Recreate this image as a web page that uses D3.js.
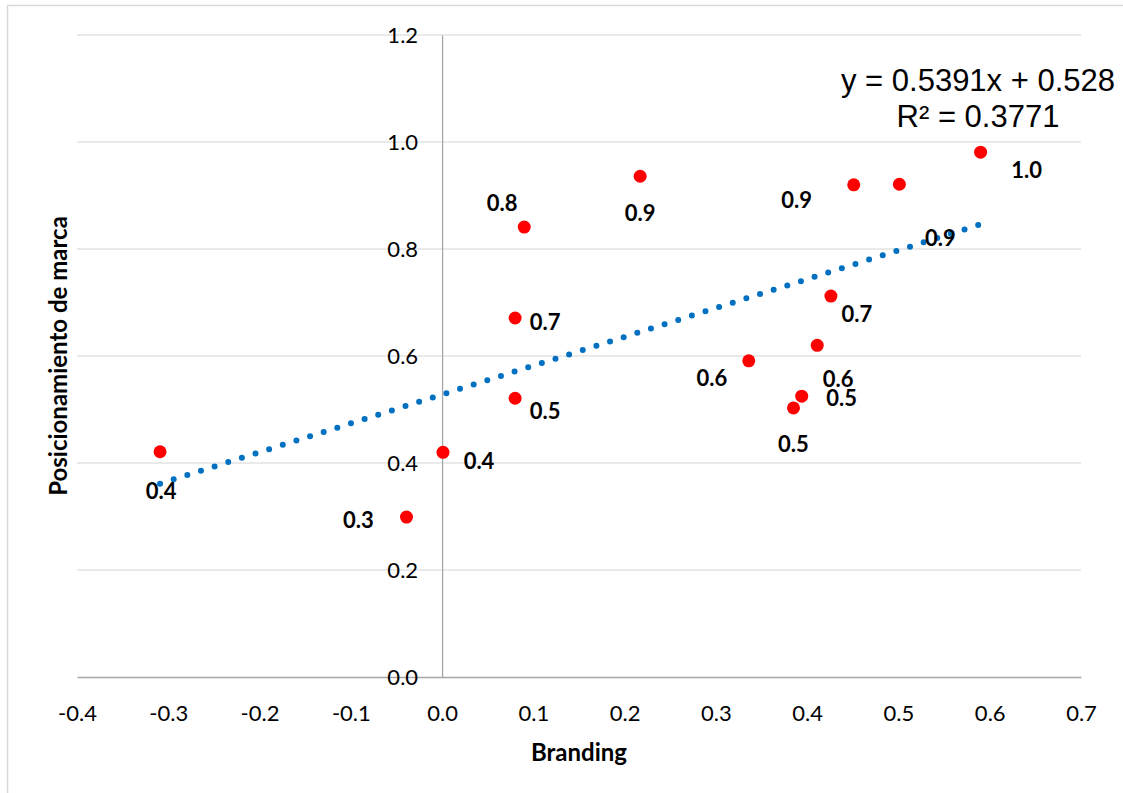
<!DOCTYPE html>
<html>
<head>
<meta charset="utf-8">
<script src="https://cdn.jsdelivr.net/npm/d3@7"></script>
<style>
  body { margin: 0; background: #fff; }
  svg text { font-family: Lato, "Open Sans", sans-serif; }
</style>
</head>
<body>
<div class="scatter"></div>
<script>
// data
const branding = [-0.309, -0.039, 0.001, 0.080, 0.080, 0.090, 0.217, 0.336, 0.385, 0.394, 0.411, 0.426, 0.451, 0.501, 0.590];
const posicionamiento = [0.421, 0.299, 0.420, 0.671, 0.521, 0.841, 0.936, 0.591, 0.503, 0.525, 0.620, 0.712, 0.920, 0.921, 0.981];
// label placement around each point (dx, dy from the point)
const labelOffsets = [[1, 47], [-48, 11], [36, 17], [30, 12], [30, 21], [-22, -16], [0, 45],
  [-37, 25], [0, 44], [40, 10], [21, 42], [26, 26], [-57, 23], [41, 62], [46, 26]];
const xTicks = [-0.4, -0.3, -0.2, -0.1, 0.0, 0.1, 0.2, 0.3, 0.4, 0.5, 0.6, 0.7];
const yTicks = [0.0, 0.2, 0.4, 0.6, 0.8, 1.0, 1.2];
const slope = 0.5391;
const intercept = 0.528;
const rSquared = 0.3771;

const svgWidth = 1123;
const svgHeight = 793;
const margin = { top: 35, right: 42, bottom: 116, left: 77 };
const width = svgWidth - margin.left - margin.right;
const height = svgHeight - margin.top - margin.bottom;

// plain hyphen for negatives, like the original
const fmt = d => d.toFixed(1);

const svg = d3.select(".scatter")
  .append("svg")
  .attr("width", svgWidth)
  .attr("height", svgHeight);

// chart frame
svg.append("rect")
  .attr("x", 7.5).attr("y", 5.5)
  .attr("width", 1300).attr("height", 1000)
  .attr("fill", "none")
  .attr("stroke", "#d9d9d9")
  .attr("stroke-width", 1.5);

const chartGroup = svg.append("g")
  .attr("transform", `translate(${margin.left}, ${margin.top})`);

const xScale = d3.scaleLinear().domain([-0.4, 0.7]).range([0, width]);
const yScale = d3.scaleLinear().domain([0, 1.2]).range([height, 0]);

// horizontal gridlines
chartGroup.append("g")
  .selectAll("line")
  .data(yTicks.filter(d => d !== 0))
  .enter()
  .append("line")
  .attr("x1", 0).attr("x2", width)
  .attr("y1", d => yScale(d)).attr("y2", d => yScale(d))
  .attr("stroke", "#e3e3e3")
  .attr("stroke-width", 1.5);

// x axis at y = 0
const xAxis = d3.axisBottom(xScale).tickValues(xTicks).tickSize(0).tickFormat(fmt);
const xAxisG = chartGroup.append("g")
  .attr("transform", `translate(0, ${yScale(0)})`)
  .call(xAxis);
xAxisG.select(".domain").attr("stroke", "#a6a6a6").attr("stroke-width", 1.3);
xAxisG.selectAll("text")
  .attr("y", 44)
  .attr("dy", 0)
  .attr("font-size", 22)
  .attr("fill", "#000");

// y axis at x = 0
const yAxis = d3.axisLeft(yScale).tickValues(yTicks).tickSize(0).tickFormat(fmt);
const yAxisG = chartGroup.append("g")
  .attr("transform", `translate(${xScale(0)}, 0)`)
  .call(yAxis);
yAxisG.select(".domain").attr("stroke", "#a6a6a6").attr("stroke-width", 1.3);
yAxisG.selectAll("text")
  .attr("x", -24)
  .attr("dy", "0.36em")
  .attr("font-size", 22)
  .attr("fill", "#000");

// trendline
const xExtent = d3.extent(branding);
chartGroup.append("line")
  .attr("x1", xScale(xExtent[0])).attr("y1", yScale(slope * xExtent[0] + intercept))
  .attr("x2", xScale(xExtent[1])).attr("y2", yScale(slope * xExtent[1] + intercept))
  .attr("stroke", "#0070c0")
  .attr("stroke-width", 6)
  .attr("stroke-linecap", "round")
  .attr("stroke-dasharray", "0 14.3");

const points = branding.map((x, i) => ({ x: x, y: posicionamiento[i], off: labelOffsets[i] }));

// points
chartGroup.selectAll("circle")
  .data(points)
  .enter()
  .append("circle")
  .attr("cx", d => xScale(d.x))
  .attr("cy", d => yScale(d.y))
  .attr("r", 6.5)
  .attr("fill", "#ff0000");

// data labels
chartGroup.selectAll(".pointLabel")
  .data(points)
  .enter()
  .append("text")
  .classed("pointLabel", true)
  .attr("x", d => xScale(d.x) + d.off[0])
  .attr("y", d => yScale(d.y) + d.off[1])
  .attr("text-anchor", "middle")
  .attr("font-size", 22)
  .attr("font-weight", 700)
  .attr("fill", "#000")
  .text(d => d.y.toFixed(1));

// equation
const eq = svg.append("text")
  .attr("text-anchor", "middle")
  .attr("font-size", 31)
  .attr("fill", "#000")
  .style("font-family", "'Liberation Sans', Arial, sans-serif");
eq.append("tspan").attr("x", 978).attr("y", 91)
  .text(`y = ${slope}x + ${intercept}`);
eq.append("tspan").attr("x", 978).attr("y", 127)
  .text(`R² = ${rSquared}`);

// axis titles
svg.append("text")
  .attr("x", margin.left + width / 2)
  .attr("y", 761)
  .attr("text-anchor", "middle")
  .attr("font-size", 24)
  .attr("font-weight", 700)
  .text("Branding");

svg.append("text")
  .attr("transform", "rotate(-90)")
  .attr("x", -(margin.top + height / 2))
  .attr("y", 67)
  .attr("text-anchor", "middle")
  .attr("font-size", 24)
  .attr("font-weight", 700)
  .text("Posicionamiento de marca");
</script>
</body>
</html>
